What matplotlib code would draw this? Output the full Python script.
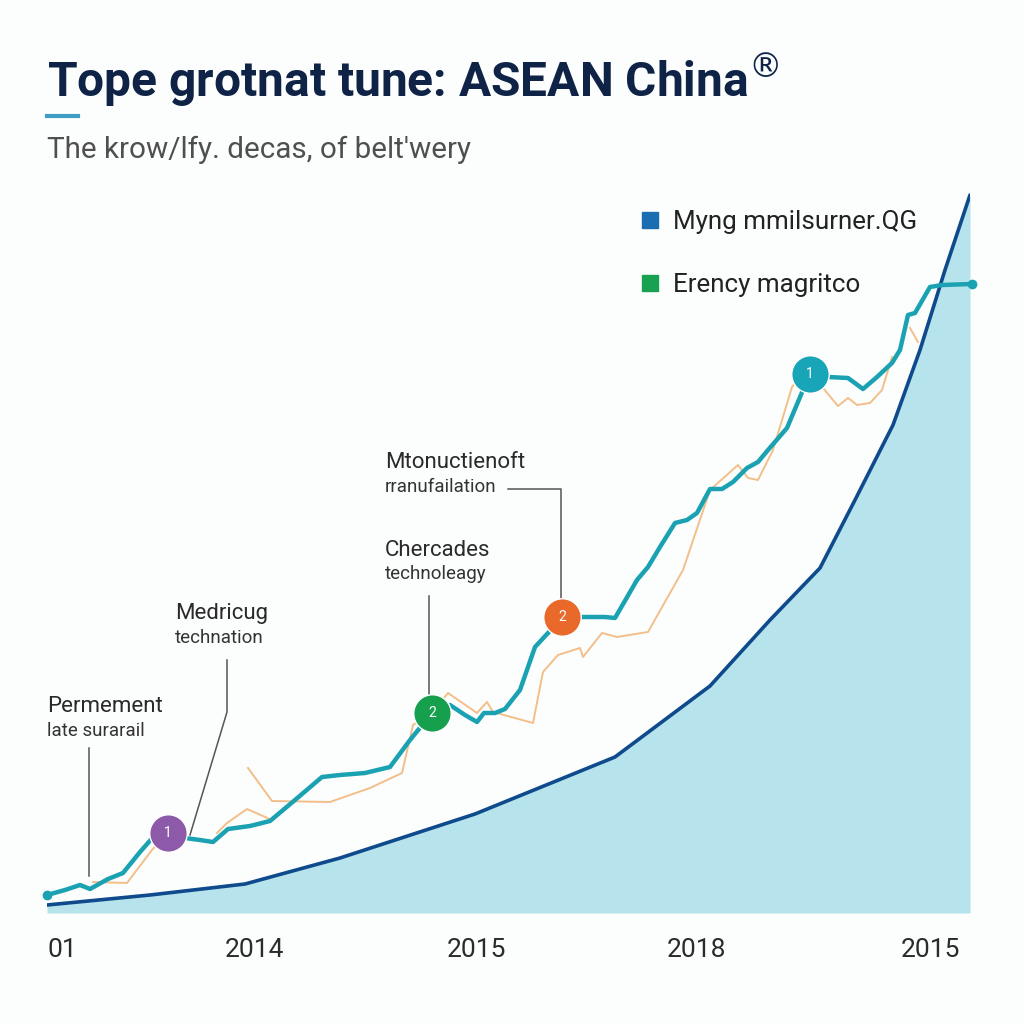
import numpy as np
import matplotlib
matplotlib.use("Agg")
import matplotlib.pyplot as plt
from matplotlib.lines import Line2D

plt.rcParams['font.family'] = ['Roboto', 'DejaVu Sans']

# dark blue area curve
area_x = [0, 103, 198, 293, 428, 568, 663, 723, 773, 808, 846, 873, 898, 923]
area_y = [8, 18, 29, 55, 99, 156, 227, 293, 345, 413, 488, 563, 643, 718]

# teal series
teal_x = [0, 18, 33, 43, 61, 76, 93, 108, 121, 138, 153, 166, 181, 203, 223, 248, 275,
          293, 318, 343, 363, 385, 403, 418, 430, 437, 448, 458, 473, 488, 501, 515,
          558, 568, 590, 601, 613, 628, 640, 650, 663, 675, 686, 700, 711, 721, 740,
          756, 763, 781, 801, 816, 830, 845, 853, 861, 868, 883, 895, 925]
teal_y = [18, 23, 28, 24, 34, 40, 61, 78, 80, 75, 73, 71, 84, 87, 92, 113, 136,
          138, 140, 146, 173, 200, 208, 198, 191, 200, 200, 204, 223, 266, 280, 296,
          296, 295, 333, 346, 366, 390, 393, 400, 424, 424, 431, 445, 451, 463, 485,
          523, 539, 536, 535, 524, 536, 550, 563, 598, 600, 626, 628, 629]

# orange series (gaps as nan)
orange_x = [46, 80, 105, 121, np.nan, 170, 180, 200, 225, np.nan,
            201, 225, 283, 323, 355, 366, 385, 401, 430, 440, 446, 486, 496, 511,
            533, 536, 555, 570, 601, 636, 663, 691, 701, 711, 726, 745, 758, 776,
            791, 801, 810, 823, 835, 845, np.nan, 863, 871]
orange_y = [31, 30, 63, 80, np.nan, 80, 90, 104, 93, np.nan,
            145, 112, 111, 125, 140, 188, 200, 220, 200, 211, 201, 190, 241, 258,
            265, 256, 280, 276, 281, 343, 423, 448, 435, 433, 463, 526, 541, 525,
            507, 515, 508, 510, 523, 556, np.nan, 585, 571]

# numbered markers
mark_x = [121, 385, 515, 763]
mark_y = [80, 200, 296, 539]
mark_lbl = ['1', '2', '2', '1']
mark_col = ['#8c5aa8', '#16a04e', '#e8692a', '#19a5b8']

# callouts: (title, sub, text x, text y, leader path)
notes = [
    ('Permement', 'late surarail', 0, 206, [(42, 165), (42, 37)]),
    ('Medricug', 'technation', 128, 299, [(180, 253), (180, 201), (143, 78)]),
    ('Chercades', 'technoleagy', 338, 363, [(382, 317), (382, 216)]),
    ('Mtonuctienoft', 'rranufailation', 338, 450, [(461, 424), (514, 424), (514, 315)]),
]

tick_pos = [15, 208, 429, 650, 883]
tick_lbl = ['01', '2014', '2015', '2018', '2015']

legend_lbl = ['Myng mmilsurner.QG', 'Erency magritco']
legend_col = ['#1a6db0', '#17a150']

fig = plt.figure(figsize=(10.24, 10.24), dpi=100)
fig.patch.set_facecolor('#fcfdfd')
ax = fig.add_axes([47 / 1024, 1 - 913 / 1024, 923 / 1024, 723 / 1024])
ax.set_facecolor('none')
ax.set_xlim(0, 923)
ax.set_ylim(0, 723)
for s in ax.spines.values():
    s.set_visible(False)
ax.set_yticks([])

ax.fill_between(area_x, 0, area_y, color='#b6e3ec', lw=0, zorder=1)
ax.plot(area_x, area_y, color='#0e4a8c', lw=2.6, zorder=2, solid_capstyle='round')

ax.plot(orange_x, orange_y, color='#f2bf8a', lw=1.4, zorder=3)
ax.plot(teal_x, teal_y, color='#1aa2b2', lw=3.2, zorder=4, clip_on=False,
        solid_joinstyle='round')
ax.plot(teal_x[0], teal_y[0], 'o', color='#1aa2b2', ms=6, zorder=4, clip_on=False)
ax.plot(teal_x[-1], teal_y[-1], 'o', color='#1aa2b2', ms=6, zorder=4, clip_on=False)

for t, sub, tx, ty, path in notes:
    ax.text(tx, ty, t, fontsize=16, color='#2a2a2a', va='center', ha='left')
    ax.text(tx, ty - 24, sub, fontsize=13.5, color='#333333', va='center', ha='left')
    px, py = zip(*path)
    ax.plot(px, py, color='#555555', lw=1.1, zorder=3)

for x, y, l, c in zip(mark_x, mark_y, mark_lbl, mark_col):
    ax.plot(x, y, 'o', ms=27, color=c, mec='white', mew=1.0, zorder=6)
    ax.text(x, y, l, color='white', fontsize=10, ha='center', va='center', zorder=7)

ax.set_xticks(tick_pos)
ax.set_xticklabels(tick_lbl, fontsize=19, color='#2b2b2b')
ax.tick_params(axis='x', length=0, pad=18)

handles = [Line2D([], [], marker='s', ls='', ms=12, color=c) for c in legend_col]
ax.legend(handles, legend_lbl, loc='upper left', bbox_to_anchor=(0.628, 0.99),
          frameon=False, fontsize=18.7, labelspacing=1.5, handletextpad=0.5,
          handlelength=0.8, borderpad=0, labelcolor='#222222')

fig.text(47 / 1024, 1 - 80 / 1024, 'Tope grotnat tune: ASEAN China$^{®}$',
         fontsize=34.5, fontweight='bold', color='#0f2347', va='center', ha='left')
fig.add_artist(Line2D([47 / 1024, 78 / 1024], [1 - 116 / 1024, 1 - 116 / 1024],
                      color='#3d9fc4', lw=3))
fig.text(47 / 1024, 1 - 150 / 1024, "The krow/lfy. decas, of belt'wery",
         fontsize=21.3, color='#4f4f4f', va='center', ha='left')

fig.savefig('out.png', dpi=100, facecolor=fig.get_facecolor())
